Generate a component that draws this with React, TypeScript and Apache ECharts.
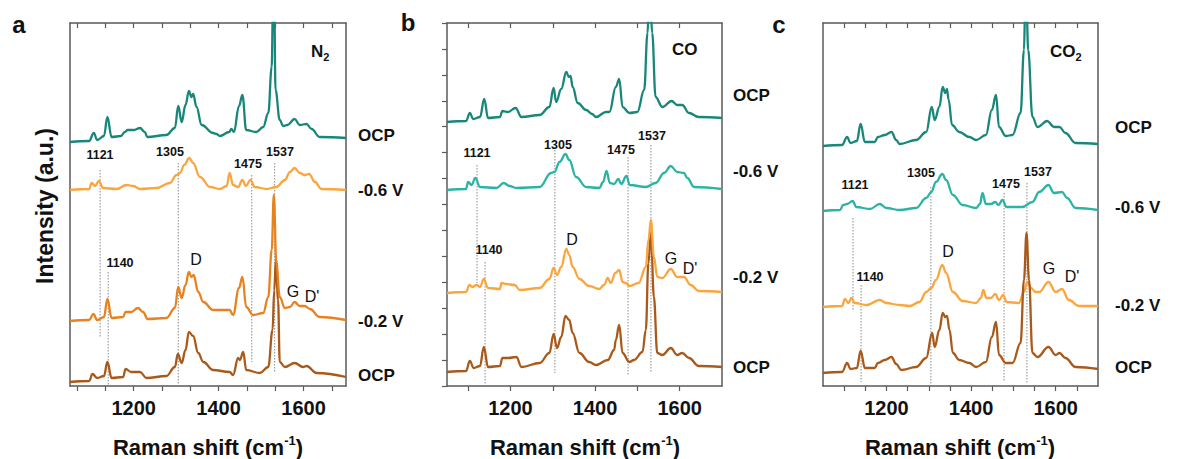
import React, { useEffect, useRef } from "react";
import * as echarts from "echarts";

// ---------- data (x: Raman shift cm-1, y: intensity in arbitrary, offset-stacked units) ----------
const X_MIN = 1050;
const X_MAX = 1700;
const Y_MAX = 363;

const xLabelValues = [1200, 1400, 1600];
const ticksA = [1066.7, 1133.3, 1200, 1266.7, 1333.3, 1400, 1466.7, 1533.3, 1600, 1666.7];
const ticksB = [1100, 1200, 1300, 1400, 1500, 1600];
const ticksC = [1100, 1150, 1200, 1250, 1300, 1350, 1400, 1450, 1500, 1550, 1600, 1650];

// Panel a (N2)
const a_ocpTop = [[1050,244],[1095,245],[1106,253],[1114,246],[1130,250],[1138,269],[1148,249],[1170,250],[1179,254],[1186,256],[1200,256],[1215,258],[1226,254],[1232,249],[1277,251],[1297,258],[1305,280],[1313,264],[1322,281],[1330,295],[1336,289],[1340,292],[1348,279],[1360,261],[1387,253],[1395,252],[1403,250],[1425,254],[1430,257],[1436,254],[1448,280],[1456,291],[1465,256],[1489,254],[1505,259],[1517,273],[1525,319],[1528,380],[1531,380],[1534,296],[1544,266],[1552,260],[1562,261],[1579,267],[1591,261],[1607,262],[1619,257],[1638,249],[1700,248]];
const a_m06 = [[1050,196],[1095,197],[1101,203],[1109,200],[1118,205],[1128,198],[1160,197],[1183,201],[1199,200],[1215,197],[1254,198],[1285,203],[1301,211],[1309,213],[1319,221],[1331,228],[1340,223],[1356,209],[1380,199],[1403,197],[1419,200],[1426,213],[1434,201],[1446,199],[1456,206],[1464,200],[1475,206],[1485,199],[1513,197],[1536,199],[1556,206],[1568,214],[1579,218],[1591,213],[1603,211],[1613,212],[1627,204],[1642,197],[1700,196]];
const a_m02 = [[1050,65],[1095,66],[1105,72],[1114,66],[1130,69],[1138,87],[1148,68],[1175,69],[1181,74],[1194,74],[1210,78],[1222,74],[1233,67],[1277,68],[1297,78],[1305,99],[1313,88],[1322,101],[1330,114],[1336,109],[1341,111],[1352,94],[1364,84],[1387,76],[1426,76],[1434,71],[1448,98],[1456,109],[1465,79],[1481,71],[1505,73],[1517,89],[1525,136],[1530,191],[1536,123],[1544,89],[1556,78],[1568,79],[1579,84],[1591,80],[1603,80],[1615,77],[1638,69],[1700,66]];
const a_ocpBot = [[1050,4],[1095,5],[1103,12],[1114,8],[1130,10],[1138,24],[1148,8],[1175,9],[1181,17],[1194,14],[1215,14],[1230,8],[1277,10],[1297,19],[1304,32],[1313,23],[1322,36],[1330,54],[1340,50],[1352,33],[1364,24],[1387,16],[1426,14],[1434,11],[1446,28],[1450,26],[1458,34],[1465,16],[1497,13],[1517,19],[1527,56],[1531,96],[1535,127],[1540,86],[1544,24],[1556,19],[1579,23],[1599,19],[1607,20],[1631,13],[1700,9]];

// Panel b (CO)
const b_ocpTop = [[1050,264],[1095,265],[1104,273],[1112,267],[1128,269],[1138,287],[1147,268],[1175,269],[1181,275],[1194,274],[1212,278],[1226,269],[1269,271],[1292,279],[1302,298],[1308,284],[1320,297],[1332,314],[1338,309],[1342,310],[1347,299],[1359,283],[1379,276],[1393,272],[1402,269],[1426,274],[1434,274],[1449,299],[1457,307],[1465,279],[1481,273],[1500,274],[1516,296],[1524,353],[1527,380],[1531,380],[1535,353],[1543,289],[1559,279],[1581,285],[1594,281],[1606,281],[1622,273],[1645,269],[1700,268]];
const b_m06 = [[1050,196],[1095,197],[1100,204],[1108,201],[1117,208],[1128,199],[1167,198],[1184,203],[1198,200],[1214,198],[1269,199],[1296,213],[1304,214],[1316,224],[1330,232],[1339,226],[1355,209],[1379,199],[1410,198],[1419,204],[1427,215],[1435,203],[1445,202],[1455,207],[1462,202],[1474,210],[1482,201],[1520,199],[1543,203],[1563,213],[1579,220],[1594,214],[1610,213],[1618,208],[1634,199],[1700,197]];
const b_m02 = [[1050,93],[1095,94],[1103,101],[1110,99],[1120,101],[1128,99],[1137,107],[1147,98],[1175,97],[1179,103],[1190,102],[1210,101],[1222,96],[1269,98],[1292,107],[1302,118],[1310,111],[1320,119],[1332,137],[1339,131],[1347,119],[1363,107],[1386,100],[1410,97],[1421,101],[1430,108],[1437,103],[1448,113],[1457,116],[1465,104],[1473,103],[1481,100],[1503,103],[1520,119],[1526,146],[1532,166],[1539,129],[1547,109],[1559,108],[1579,117],[1594,109],[1610,109],[1626,101],[1645,95],[1700,94]];
const b_ocpBot = [[1050,14],[1095,15],[1104,25],[1113,18],[1128,20],[1137,39],[1147,19],[1175,20],[1181,28],[1194,28],[1214,29],[1226,19],[1269,23],[1292,33],[1302,52],[1310,38],[1320,49],[1330,70],[1339,66],[1347,53],[1363,33],[1386,24],[1402,21],[1430,26],[1445,36],[1449,46],[1457,61],[1465,33],[1481,24],[1492,26],[1512,34],[1520,56],[1526,123],[1532,154],[1539,89],[1547,33],[1559,31],[1579,38],[1594,31],[1606,33],[1622,28],[1645,20],[1700,19]];

// Panel c (CO2)
const c_ocpTop = [[1050,240],[1095,241],[1107,249],[1115,243],[1130,245],[1139,262],[1149,244],[1172,244],[1180,249],[1196,251],[1212,254],[1223,246],[1231,242],[1270,246],[1294,254],[1307,279],[1314,266],[1325,279],[1333,299],[1339,293],[1343,297],[1347,286],[1355,261],[1372,254],[1396,249],[1412,246],[1435,251],[1449,276],[1459,291],[1466,259],[1482,250],[1498,251],[1517,273],[1525,336],[1528,380],[1531,380],[1535,336],[1545,269],[1557,259],[1580,265],[1596,259],[1609,259],[1623,253],[1647,243],[1700,242]];
const c_m06 = [[1050,175],[1090,176],[1098,181],[1107,182],[1120,185],[1129,179],[1161,177],[1184,182],[1200,178],[1231,176],[1270,178],[1294,188],[1306,194],[1317,204],[1332,212],[1341,206],[1357,191],[1380,181],[1412,178],[1421,182],[1427,193],[1435,182],[1447,182],[1457,184],[1465,181],[1474,186],[1484,179],[1521,179],[1545,184],[1561,194],[1583,201],[1596,193],[1615,194],[1627,188],[1647,178],[1700,176]];
const c_m02 = [[1050,79],[1095,80],[1102,87],[1110,83],[1117,88],[1125,83],[1153,81],[1184,86],[1200,83],[1231,81],[1255,80],[1278,84],[1294,94],[1306,98],[1317,106],[1332,121],[1341,113],[1357,94],[1380,85],[1412,83],[1423,88],[1429,96],[1436,88],[1447,88],[1457,92],[1466,86],[1476,91],[1484,84],[1513,83],[1525,94],[1533,104],[1542,98],[1552,94],[1561,94],[1583,104],[1600,94],[1615,97],[1631,86],[1655,80],[1700,80]];
const c_ocpBot = [[1050,13],[1095,14],[1107,23],[1115,17],[1130,18],[1139,35],[1149,18],[1172,18],[1180,23],[1196,26],[1212,29],[1223,22],[1235,16],[1270,19],[1294,28],[1308,53],[1314,39],[1325,56],[1333,73],[1339,69],[1343,70],[1349,56],[1357,33],[1372,26],[1396,23],[1412,19],[1435,24],[1449,49],[1459,64],[1466,31],[1482,23],[1498,23],[1517,43],[1525,106],[1531,153],[1537,106],[1545,33],[1557,29],[1583,39],[1600,31],[1609,33],[1623,28],[1647,19],[1700,17]];

// dotted marker lines: [x, top, bottom]
const a_marks = [[1121,216,49],[1305,223,2],[1478,211,24],[1532,223,14],[1140,114,1]];
const b_marks = [[1121,221,103],[1305,236,13],[1478,229,10],[1532,241,13],[1140,124,2]];
const c_marks = [[1121,168,76],[1305,199,0],[1478,193,4],[1532,203,3],[1140,101,4]];

const peakLabels = ["1121", "1305", "1475", "1537", "1140"];
const bandLabels = ["D", "G", "D'"];
const traceLabels = ["OCP", "-0.6 V", "-0.2 V", "OCP"];

const COL_TEAL_DARK = "#18877a";
const COL_TEAL = "#2bb3a3";
const COL_ORANGE_LIGHT = "#fba53e";
const COL_ORANGE = "#e8821f";
const COL_BROWN = "#a9591a";

const FONT = "'Liberation Sans', Arial, Helvetica, sans-serif";
const AXIS_COL = "#5a5a5a";

export default function App() {
  const ref = useRef<HTMLDivElement>(null);

  useEffect(() => {
    document.body.style.margin = "0";
    if (!ref.current) return;
    const chart = echarts.init(ref.current, null, { renderer: "svg" });

    const grids = [
      { left: 70, top: 23, width: 276, height: 363 },
      { left: 447, top: 23, width: 275, height: 363 },
      { left: 823, top: 23, width: 275, height: 363 },
    ];
    const tickSets = [ticksA, ticksB, ticksC];
    const xAxis: any[] = [];
    const yAxis: any[] = [];
    grids.forEach((_, i) => {
      xAxis.push({
        type: "value", gridIndex: i, min: X_MIN, max: X_MAX, position: "bottom",
        axisLine: { show: true, onZero: false, lineStyle: { color: AXIS_COL, width: 1.5 } },
        axisTick: { show: true, inside: false, length: 5, customValues: tickSets[i], lineStyle: { color: AXIS_COL, width: 1.2 } },
        axisLabel: {
          show: true, customValues: xLabelValues, margin: 12, fontSize: 20, fontWeight: "bold", color: "#111", fontFamily: FONT,
          formatter: (v: number) => String(Math.round(v)),
        },
        splitLine: { show: false },
      });
      xAxis.push({
        type: "value", gridIndex: i, min: X_MIN, max: X_MAX, position: "top",
        axisLine: { show: true, onZero: false, lineStyle: { color: AXIS_COL, width: 1.5 } },
        axisTick: { show: true, inside: true, length: 5, customValues: tickSets[i], lineStyle: { color: AXIS_COL, width: 1.2 } },
        axisLabel: { show: false },
        splitLine: { show: false },
      });
      yAxis.push({
        type: "value", gridIndex: i, min: 0, max: Y_MAX, interval: Y_MAX / 14, position: "left",
        axisLine: { show: true, onZero: false, lineStyle: { color: AXIS_COL, width: 1.5 } },
        axisTick: { show: i === 1, inside: false, length: 5, lineStyle: { color: AXIS_COL, width: 1.2 } },
        axisLabel: { show: false },
        splitLine: { show: false },
      });
      yAxis.push({
        type: "value", gridIndex: i, min: 0, max: Y_MAX, position: "right",
        axisLine: { show: true, onZero: false, lineStyle: { color: AXIS_COL, width: 1.5 } },
        axisTick: { show: false },
        axisLabel: { show: false },
        splitLine: { show: false },
      });
    });

    const spec = (i: number, data: number[][], color: string) => ({
      type: "line", xAxisIndex: i * 2, yAxisIndex: i * 2, data, showSymbol: false, symbol: "none",
      smooth: 0.4, smoothMonotone: "x", clip: true,
      lineStyle: { color, width: 2.3, join: "round" }, silent: true,
    });
    const marks = (i: number, arr: number[][]) =>
      arr.map((m) => ({
        type: "line", xAxisIndex: i * 2, yAxisIndex: i * 2,
        data: [[m[0], m[1]], [m[0], m[2]]], showSymbol: false, symbol: "none",
        lineStyle: { color: "#8a8a8a", width: 1, type: [1.5, 1.5] }, silent: true, z: 1,
      }));

    const series: any[] = [
      ...marks(0, a_marks), ...marks(1, b_marks), ...marks(2, c_marks),
      spec(0, a_ocpBot, COL_BROWN), spec(0, a_m02, COL_ORANGE), spec(0, a_m06, COL_ORANGE_LIGHT), spec(0, a_ocpTop, COL_TEAL_DARK),
      spec(1, b_ocpBot, COL_BROWN), spec(1, b_m02, COL_ORANGE_LIGHT), spec(1, b_m06, COL_TEAL), spec(1, b_ocpTop, COL_TEAL_DARK),
      spec(2, c_m02, COL_ORANGE_LIGHT), spec(2, c_ocpBot, COL_BROWN), spec(2, c_m06, COL_TEAL), spec(2, c_ocpTop, COL_TEAL_DARK),
    ];

    const txt = (text: string, x: number, y: number, size: number, bold = true, align = "center", extra: any = {}) => ({
      type: "text", x, y, silent: true,
      style: { text, fontSize: size, fontWeight: bold ? "bold" : "normal", fontFamily: FONT, fill: "#111", align, verticalAlign: "middle", ...extra },
    });

    const graphics: any[] = [];
    // panel letters
    graphics.push(txt("a", 19, 24, 24), txt("b", 408, 22, 24), txt("c", 779, 24, 24));
    // gas labels
    const gas = (main: string, sub: string, x: number, y: number) => ({
      type: "text", x, y, silent: true,
      style: {
        text: sub ? `{m|${main}}{s|${sub}}` : `{m|${main}}`, align: "left", verticalAlign: "middle",
        rich: {
          m: { fontSize: 17, fontWeight: "bold", fontFamily: FONT, fill: "#111", lineHeight: 22, verticalAlign: "middle" },
          s: { fontSize: 11, fontWeight: "bold", fontFamily: FONT, fill: "#111", lineHeight: 22, verticalAlign: "bottom" },
        },
      },
    });
    graphics.push(gas("N", "2", 311, 51), gas("CO", "", 672, 49), gas("CO", "2", 1050, 51));
    // right trace labels
    const rightX = [358, 733, 1115];
    const rightY = [[135, 190, 321, 375], [95, 171, 277, 367], [127, 207, 305, 367]];
    rightX.forEach((x, i) => traceLabels.forEach((l, j) => graphics.push(txt(l, x, rightY[i][j], 17, true, "left"))));
    // peak labels
    const peakPos = [
      [[100, 155], [170, 152], [248, 164], [280, 152], [120, 263]],
      [[477, 153], [558, 145], [621, 150], [652, 136], [489, 250]],
      [[855, 185], [921, 173], [1006, 184], [1038, 172], [870, 277]],
    ];
    peakPos.forEach((p) => p.forEach((pt, j) => graphics.push(txt(peakLabels[j], pt[0], pt[1], 12.5))));
    const bandPos = [
      [[196, 259], [293, 291], [312, 296]],
      [[572, 239], [671, 258], [690, 268]],
      [[948, 251], [1049, 268], [1072, 276]],
    ];
    bandPos.forEach((p) => p.forEach((pt, j) => graphics.push(txt(bandLabels[j], pt[0], pt[1], 16, false))));
    // axis titles
    graphics.push({
      type: "text", x: 45, y: 206, rotation: Math.PI / 2, silent: true,
      style: { text: "Intensity (a.u.)", fontSize: 23, fontWeight: "bold", fontFamily: FONT, fill: "#111", align: "center", verticalAlign: "middle" },
    });
    [208, 585, 960].forEach((cx) =>
      graphics.push({
        type: "text", x: cx, y: 446, silent: true,
        style: {
          text: "{m|Raman shift (cm}{s|-1}{m|)}", align: "center", verticalAlign: "middle",
          rich: {
            m: { fontSize: 22, fontWeight: "bold", fontFamily: FONT, fill: "#111", lineHeight: 24, verticalAlign: "bottom" },
            s: { fontSize: 13, fontWeight: "bold", fontFamily: FONT, fill: "#111", lineHeight: 24, verticalAlign: "top" },
          },
        },
      })
    );

    chart.setOption({
      animation: false,
      backgroundColor: "#ffffff",
      grid: grids.map((g) => ({ ...g, containLabel: false })),
      xAxis,
      yAxis,
      series,
      graphic: graphics,
    });
    return () => chart.dispose();
  }, []);

  return <div ref={ref} style={{ width: 1189, height: 459 }} />;
}
